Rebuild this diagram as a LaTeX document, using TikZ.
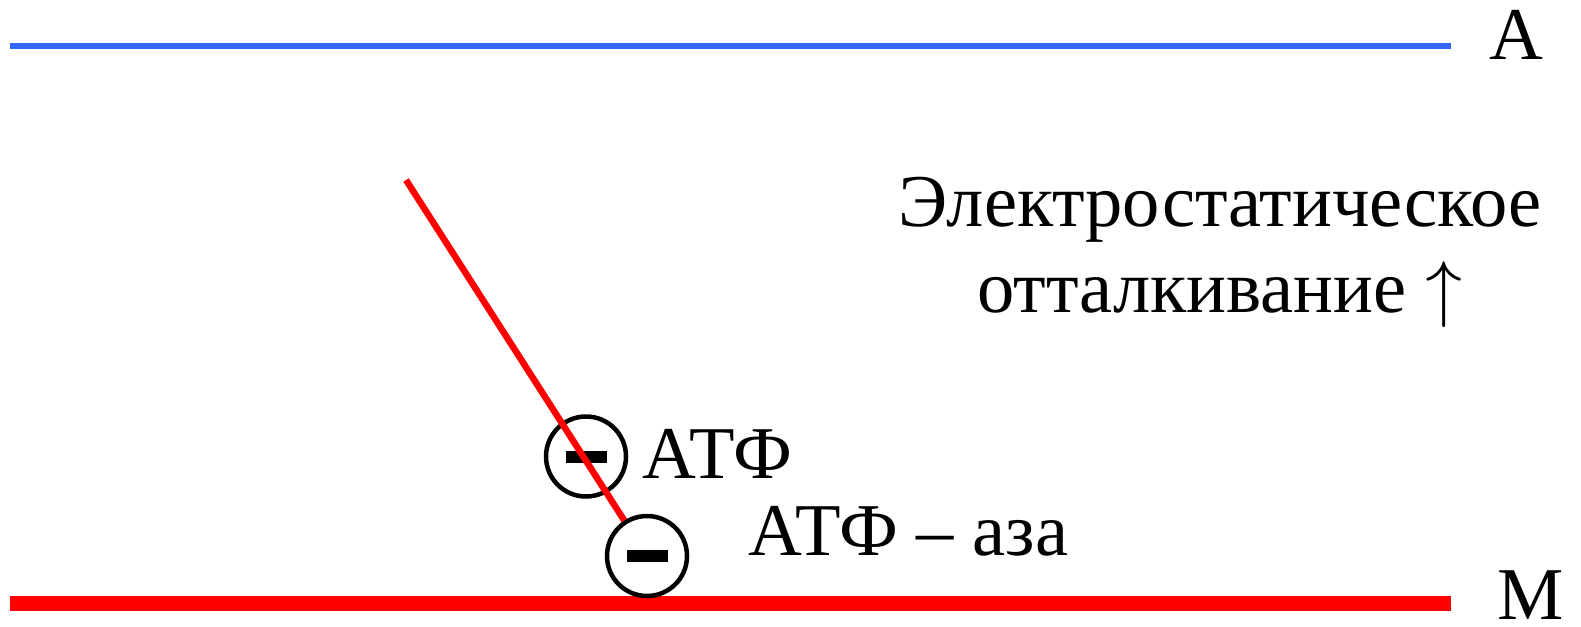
\documentclass[tikz,border=0pt]{standalone}
\usepackage{unicode-math}
\setmainfont{Liberation Serif}
\usetikzlibrary{positioning}
\definecolor{Anode}{HTML}{3366FF}
\definecolor{Membrane}{HTML}{FF0000}

\begin{document}
\begin{tikzpicture}[font=\fontsize{42.4}{49}\selectfont,
    ion/.style={draw,circle,line width=0.09cm,minimum size=1.6cm,inner sep=0pt},
    minus/.style={fill,inner sep=0pt,minimum width=0.82cm,minimum height=0.24cm},
    tag/.style={inner sep=0pt,anchor=base west}]
  \useasboundingbox (0,0) rectangle (31.62,12.52);
  % layers
  \draw[Anode,line width=0.12cm] (0.2,11.6) -- (29.02,11.6);
  \draw[Membrane,line width=0.3cm] (0.2,0.46) -- (29.02,0.46);
  \node[tag,anchor=base] (anode) at (30.33,11.32) {А};
  \node[tag,anchor=base] (membr) at (30.62,0.14) {М};
  % charged groups
  \node[ion] (atp) at (11.72,3.39) {};
  \node[minus] at (atp) {};
  \node[ion] (atpase) at (12.94,1.40) {};
  \node[minus] at (atpase) {};
  \coordinate (tail) at (8.12,8.92);
  \draw[Membrane,line width=0.13cm] (tail) -- (atpase);
  \node[tag] (atplab) at (12.84,2.96) {АТФ};
  \node[tag] (atpaselab) at (14.96,1.42) {АТФ – аза};
  \node[inner sep=0pt,align=center,anchor=north] (repulsion) at (24.4,8.98) {Электростатическое\\отталкивание $\uparrow$};
\end{tikzpicture}
\end{document}
